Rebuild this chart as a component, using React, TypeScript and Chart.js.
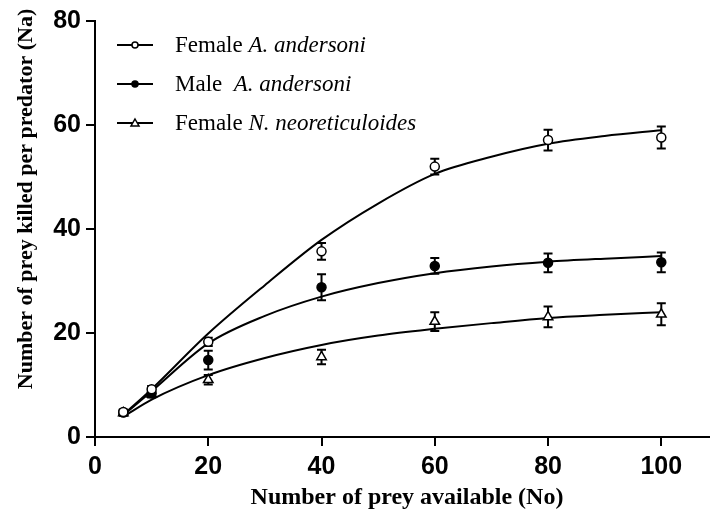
import React, { useEffect, useRef } from "react";
import { Chart, registerables } from "chart.js";

Chart.register(...registerables);

const xPoints = [5, 10, 20, 40, 60, 80, 100];
const femaleA = [4.8, 9.2, 18.3, 35.7, 52.0, 57.1, 57.6];
const femaleAErr = [0.5, 0.6, 0.8, 1.6, 1.5, 2.0, 2.1];
const maleA = [4.7, 8.4, 14.8, 28.8, 32.9, 33.5, 33.6];
const maleAErr = [0.5, 0.7, 1.8, 2.5, 1.5, 1.8, 1.9];
const femaleN = [4.6, 8.2, 11.0, 15.4, 22.2, 23.1, 23.6];
const femaleNErr = [0.5, 0.6, 0.9, 1.4, 1.8, 2.0, 2.1];

const fitX = [5, 10, 20, 30, 40, 50, 60, 70, 80, 90, 100];
const femaleAFit = [4.3, 9.2, 19.9, 29.2, 37.9, 44.9, 50.6, 53.9, 56.4, 57.9, 59.0];
const maleAFit = [4.2, 8.8, 18.0, 23.3, 27.0, 29.6, 31.5, 32.8, 33.7, 34.3, 34.8];
const femaleNFit = [3.9, 7.2, 11.9, 15.2, 17.7, 19.5, 20.8, 21.9, 22.9, 23.5, 24.0];

const xTicks = [0, 20, 40, 60, 80, 100];

const legendItems = [
  { plain: "Female ", italic: "A. andersoni", marker: "open" },
  { plain: "Male  ", italic: "A. andersoni", marker: "filled" },
  { plain: "Female ", italic: "N. neoreticuloides", marker: "triangle" },
];

const serif = "'Liberation Serif', 'Times New Roman', serif";
const sans = "'Liberation Sans', Arial, sans-serif";

const errorBarPlugin = {
  id: "errorBars",
  beforeDatasetsDraw(chart: any) {
    const { ctx, scales } = chart;
    const xs = scales.x;
    const ys = scales.y;
    const series = [
      [femaleA, femaleAErr],
      [maleA, maleAErr],
      [femaleN, femaleNErr],
    ];
    ctx.save();
    ctx.strokeStyle = "#000";
    ctx.lineWidth = 2;
    series.forEach(([vals, errs]) => {
      vals.forEach((v: number, i: number) => {
        const px = xs.getPixelForValue(xPoints[i]);
        const top = ys.getPixelForValue(v + errs[i]);
        const bot = ys.getPixelForValue(v - errs[i]);
        ctx.beginPath();
        ctx.moveTo(px, top);
        ctx.lineTo(px, bot);
        ctx.moveTo(px - 4.5, top);
        ctx.lineTo(px + 4.5, top);
        ctx.moveTo(px - 4.5, bot);
        ctx.lineTo(px + 4.5, bot);
        ctx.stroke();
      });
    });
    ctx.restore();
  },
};

const decorPlugin = {
  id: "decor",
  afterDraw(chart: any) {
    const { ctx } = chart;
    ctx.save();
    ctx.fillStyle = "#000";
    ctx.font = `bold 22px ${serif}`;
    ctx.textAlign = "center";
    ctx.textBaseline = "middle";
    ctx.translate(26, 199);
    ctx.rotate(-Math.PI / 2);
    ctx.fillText("Number of prey killed per predator (Na)", 0, 0);
    ctx.restore();

    ctx.save();
    ctx.fillStyle = "#000";
    ctx.font = `bold 24px ${serif}`;
    ctx.textAlign = "center";
    ctx.textBaseline = "middle";
    ctx.fillText("Number of prey available (No)", 407, 498);
    ctx.restore();

    ctx.save();
    const rowsY = [45, 84, 123];
    legendItems.forEach((item, i) => {
      const y = rowsY[i];
      ctx.strokeStyle = "#000";
      ctx.lineWidth = 2;
      ctx.beginPath();
      ctx.moveTo(117, y);
      ctx.lineTo(153, y);
      ctx.stroke();
      ctx.lineWidth = 1.5;
      if (item.marker === "triangle") {
        ctx.beginPath();
        ctx.moveTo(135, y - 4);
        ctx.lineTo(139, y + 3);
        ctx.lineTo(131, y + 3);
        ctx.closePath();
        ctx.fillStyle = "#fff";
        ctx.fill();
        ctx.stroke();
      } else {
        ctx.beginPath();
        ctx.arc(135, y, 3, 0, Math.PI * 2);
        ctx.fillStyle = item.marker === "filled" ? "#000" : "#fff";
        ctx.fill();
        ctx.stroke();
      }
      ctx.fillStyle = "#000";
      ctx.textAlign = "left";
      ctx.textBaseline = "middle";
      ctx.font = `23px ${serif}`;
      ctx.fillText(item.plain, 175, y + 1);
      const w = ctx.measureText(item.plain).width;
      ctx.font = `italic 23px ${serif}`;
      ctx.fillText(item.italic, 175 + w, y + 1);
    });
    ctx.restore();
  },
};

export default function App() {
  const ref = useRef<HTMLCanvasElement | null>(null);
  useEffect(() => {
    if (!ref.current) return;
    const pts = (vals: number[]) => xPoints.map((x, i) => ({ x, y: vals[i] }));
    const fit = (vals: number[]) => fitX.map((x, i) => ({ x, y: vals[i] }));
    const pointBase = {
      showLine: false,
      borderColor: "#000",
      borderWidth: 1.5,
      pointRadius: 4.5,
      pointHoverRadius: 4.5,
    };
    const lineBase = {
      showLine: true,
      borderColor: "#000",
      borderWidth: 2,
      pointRadius: 0,
      fill: false,
      cubicInterpolationMode: "monotone" as const,
    };
    const chart = new Chart(ref.current, {
      type: "scatter",
      data: {
        datasets: [
          { ...pointBase, label: "Female A. andersoni", data: pts(femaleA), pointStyle: "circle", backgroundColor: "#fff", pointBackgroundColor: "#fff" },
          { ...pointBase, label: "Male A. andersoni", data: pts(maleA), pointStyle: "circle", backgroundColor: "#000", pointBackgroundColor: "#000" },
          { ...pointBase, label: "Female N. neoreticuloides", data: pts(femaleN), pointStyle: "triangle", pointRadius: 5.5, backgroundColor: "#fff", pointBackgroundColor: "#fff" },
          { ...lineBase, label: "fitA", data: fit(femaleAFit) },
          { ...lineBase, label: "fitM", data: fit(maleAFit) },
          { ...lineBase, label: "fitN", data: fit(femaleNFit) },
        ] as any,
      },
      plugins: [errorBarPlugin, decorPlugin],
      options: {
        animation: false,
        responsive: true,
        maintainAspectRatio: false,
        layout: { padding: { top: 21, right: 0, bottom: 0, left: 0 } },
        plugins: {
          legend: { display: false },
          tooltip: { enabled: false },
        },
        scales: {
          x: {
            type: "linear",
            min: 0,
            max: 108.6,
            afterBuildTicks: (scale: any) => {
              scale.ticks = xTicks.map((v) => ({ value: v }));
            },
            afterFit: (scale: any) => {
              scale.height = 86;
              scale.paddingLeft = 0;
              scale.paddingRight = 0;
            },
            grid: {
              display: true,
              drawOnChartArea: false,
              drawTicks: true,
              tickLength: 9,
              color: "#000",
              lineWidth: 2,
            },
            border: { display: true, color: "#000", width: 2 },
            ticks: {
              color: "#000",
              padding: 6,
              font: { family: sans, size: 25, weight: "bold" },
              maxRotation: 0,
            },
          },
          y: {
            type: "linear",
            min: 0,
            max: 80,
            ticks: {
              stepSize: 20,
              color: "#000",
              padding: 5,
              font: { family: sans, size: 25, weight: "bold" },
            },
            afterFit: (scale: any) => {
              scale.width = 95;
              scale.paddingTop = 0;
              scale.paddingBottom = 0;
            },
            grid: {
              display: true,
              drawOnChartArea: false,
              drawTicks: true,
              tickLength: 9,
              color: "#000",
              lineWidth: 2,
            },
            border: { display: true, color: "#000", width: 2 },
          },
        },
      } as any,
    });
    return () => chart.destroy();
  }, []);
  return (
    <div style={{ position: "absolute", left: 0, top: 0, width: 710, height: 523, overflow: "hidden", background: "#fff" }}>
      <div style={{ position: "relative", width: 717, height: 523 }}>
        <canvas ref={ref} />
      </div>
    </div>
  );
}
